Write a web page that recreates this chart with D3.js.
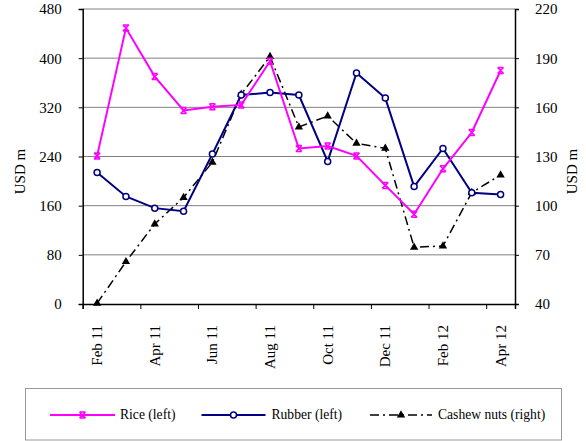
<!DOCTYPE html>
<html><head><meta charset="utf-8">
<script src="https://cdn.jsdelivr.net/npm/d3@7"></script>
</head><body style="margin:0;background:#fff">
<svg id="c" width="586" height="441" font-family="Liberation Serif"></svg>
<script>
const categories = ["Feb 11","Mar 11","Apr 11","May 11","Jun 11","Jul 11","Aug 11","Sep 11","Oct 11","Nov 11","Dec 11","Jan 12","Feb 12","Mar 12","Apr 12"];
const rice = [241,449,370,315,321,324,395,253,257,241,193,146,220,279,380];
const rubber = [214,175,156,151,244,340,344,340,232,376,335,191,253,181,178];
const cashew = [40.4,65.8,88.8,105,126.5,168,191,148,154.7,138,135,74.6,75.4,108,118.7];
const leftTicks = [0,80,160,240,320,400,480];
const rightTicks = [40,70,100,130,160,190,220];
const xLabels = ["Feb 11","Apr 11","Jun 11","Aug 11","Oct 11","Dec 11","Feb 12","Apr 12"];
const seriesNames = ["Rice (left)","Rubber (left)","Cashew nuts (right)"];

const FONT = "Liberation Serif";
const svg = d3.select("#c");
const L = 82.7, R = 515, T = 9, B = 304;
const x = d3.scaleBand().domain(categories).range([L, R]).padding(0);
const xb = d3.scaleLinear().domain([0, categories.length]).range([L, R]);
const yL = d3.scaleLinear().domain([0, 480]).range([B, T]);
const yR = d3.scaleLinear().domain([40, 220]).range([B, T]);
const cx = d => x(d) + x.bandwidth() / 2;

// gridlines
svg.append("g").selectAll("line").data(leftTicks.filter(v => v > 0)).join("line")
  .attr("x1", L).attr("x2", R).attr("y1", d => yL(d)).attr("y2", d => yL(d))
  .attr("stroke", "#808080").attr("stroke-width", 1);

// left axis
const gl = svg.append("g").attr("transform", `translate(${L},0)`)
  .call(d3.axisLeft(yL).tickValues(leftTicks).tickSize(4).tickPadding(17));
gl.attr("font-family", FONT).attr("font-size", 15);
gl.selectAll("text").attr("font-family", FONT).attr("font-size", 15).attr("dy", "0.33em");
gl.select(".domain").attr("stroke", "#000").attr("stroke-width", 1.5);

// right axis
const gr = svg.append("g").attr("transform", `translate(${R},0)`)
  .call(d3.axisRight(yR).tickValues(rightTicks).tickSize(4).tickPadding(16));
gr.attr("font-family", FONT).attr("font-size", 15);
gr.selectAll("text").attr("font-family", FONT).attr("font-size", 15).attr("dy", "0.33em");
gr.select(".domain").attr("stroke", "#000").attr("stroke-width", 1.5);

// bottom axis tick marks at boundaries
const gb = svg.append("g").attr("transform", `translate(0,${B})`)
  .call(d3.axisBottom(xb).tickValues(d3.range(0, categories.length, 2)).tickSize(5).tickFormat(""));
gb.select(".domain").attr("stroke", "#000").attr("stroke-width", 1.5);

// bottom labels
const gx = svg.append("g").attr("transform", `translate(0,${B})`)
  .call(d3.axisBottom(x).tickValues(xLabels).tickSize(0));
gx.attr("font-family", FONT).attr("font-size", 15);
gx.select(".domain").remove();
gx.selectAll("text").attr("font-family", FONT).attr("font-size", 15)
  .attr("transform", "rotate(-90)").attr("text-anchor", "end")
  .attr("x", -21).attr("y", 0).attr("dy", "0.33em");

// axis titles
svg.append("text").attr("transform", "translate(25,171.5) rotate(-90)").attr("font-family", FONT)
  .attr("text-anchor", "middle").attr("font-size", 15).text("USD m");
svg.append("text").attr("transform", "translate(577,171.5) rotate(-90)").attr("font-family", FONT)
  .attr("text-anchor", "middle").attr("font-size", 15).text("USD m");

// series
const lineL = d3.line().x((d, i) => cx(categories[i])).y(d => yL(d));
const lineR = d3.line().x((d, i) => cx(categories[i])).y(d => yR(d));
const DASH = "9,4,2,4";

svg.append("path").datum(cashew).attr("d", lineR).attr("fill", "none")
  .attr("stroke", "#000").attr("stroke-width", 1.5).attr("stroke-dasharray", DASH);
svg.append("path").datum(rubber).attr("d", lineL).attr("fill", "none")
  .attr("stroke", "#000080").attr("stroke-width", 2);
svg.append("path").datum(rice).attr("d", lineL).attr("fill", "none")
  .attr("stroke", "#ff00ff").attr("stroke-width", 2);

const tri = d3.symbol().type(d3.symbolTriangle).size(30);
svg.append("g").selectAll("path").data(cashew).join("path")
  .attr("d", tri).attr("transform", (d, i) => `translate(${cx(categories[i])},${yR(d)})`).attr("fill", "#000");
svg.append("g").selectAll("circle").data(rubber).join("circle")
  .attr("cx", (d, i) => cx(categories[i])).attr("cy", d => yL(d)).attr("r", 3)
  .attr("fill", "#fff").attr("stroke", "#000080").attr("stroke-width", 1.5);
function riceMarker(g) {
  g.append("path").attr("d", "M-3,-3 L3,-3 M-3,3 L3,3 M-3,-3 L3,3 M3,-3 L-3,3")
    .attr("stroke", "#ff00ff").attr("stroke-width", 1.5).attr("fill", "none");
}
svg.append("g").selectAll("g").data(rice).join("g")
  .attr("transform", (d, i) => `translate(${cx(categories[i])},${yL(d)})`).each(function(){ riceMarker(d3.select(this)); });

// legend
const lg = svg.append("g");
lg.append("rect").attr("x", 25.5).attr("y", 388.5).attr("width", 536).attr("height", 51.5)
  .attr("fill", "#fff").attr("stroke", "#999").attr("stroke-width", 1);
const ly = 415;
const items = [
  {x1: 50, x2: 115, tx: 120, color: "#ff00ff", dash: null, mk: "rice"},
  {x1: 201.5, x2: 265.5, tx: 271.5, color: "#000080", dash: null, mk: "rubber"},
  {x1: 370, x2: 432, tx: 438, color: "#000", dash: DASH, mk: "cashew"}
];
items.forEach((it, k) => {
  const l = lg.append("line").attr("x1", it.x1).attr("x2", it.x2).attr("y1", ly).attr("y2", ly)
    .attr("stroke", it.color).attr("stroke-width", it.mk === "cashew" ? 1.5 : 2);
  if (it.dash) l.attr("stroke-dasharray", it.dash);
  const mx = (it.x1 + it.x2) / 2;
  if (it.mk === "rice") riceMarker(lg.append("g").attr("transform", `translate(${mx},${ly})`));
  if (it.mk === "rubber") lg.append("circle").attr("cx", mx).attr("cy", ly).attr("r", 3)
    .attr("fill", "#fff").attr("stroke", "#000080").attr("stroke-width", 1.5);
  if (it.mk === "cashew") lg.append("path").attr("d", tri).attr("transform", `translate(${mx},${ly})`).attr("fill", "#000");
  lg.append("text").attr("x", it.tx).attr("y", ly).attr("dy", "0.33em").attr("font-size", 13.6)
    .attr("font-family", FONT).text(seriesNames[k]);
});
</script></body></html>
